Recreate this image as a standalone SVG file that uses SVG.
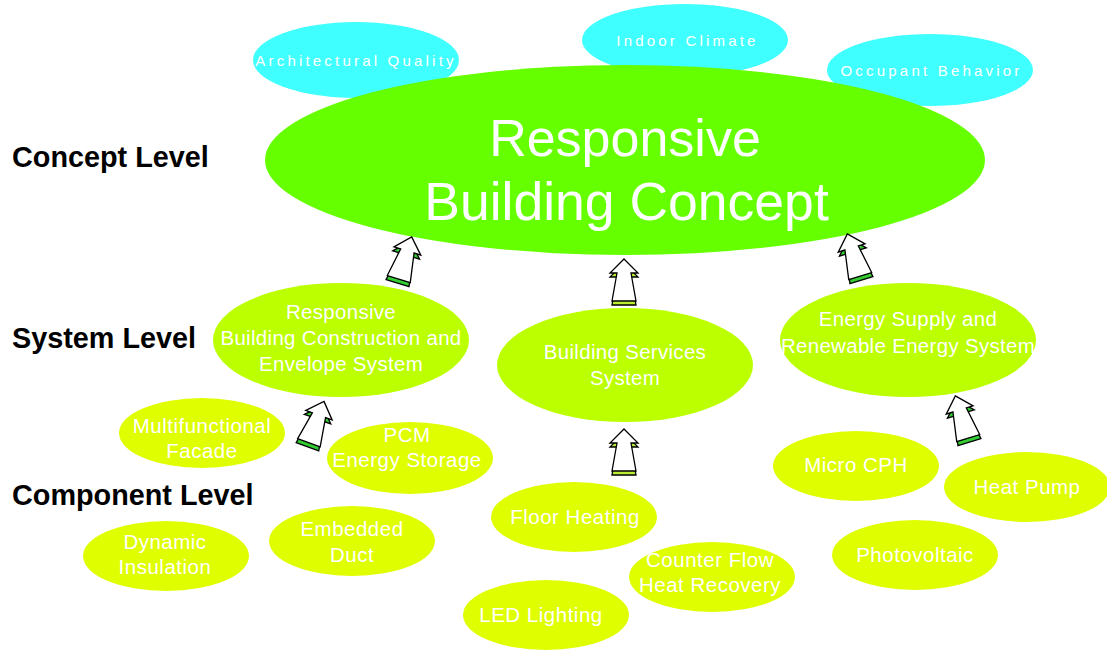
<svg xmlns="http://www.w3.org/2000/svg" xmlns:xlink="http://www.w3.org/1999/xlink" width="1107" height="651" viewBox="0 0 1107 651">
<defs>
<style>
.lvl{font-family:"Liberation Sans",Arial,sans-serif;font-weight:bold;font-size:28.8px;fill:#000}
.cy{fill:#40FFFF}
.cyt{font-family:"Liberation Sans",Arial,sans-serif;font-size:15px;letter-spacing:3.2px;fill:#fff;text-anchor:middle}
.main{fill:#66FF00}
.maint{font-family:"Liberation Sans",Arial,sans-serif;font-size:52px;fill:#fff;text-anchor:middle}
.sys{fill:#BBFF00}
.syst{font-family:"Liberation Sans",Arial,sans-serif;font-size:20.5px;letter-spacing:0.3px;fill:#fff;text-anchor:middle}
.comp{fill:#DFFF00}
.compt{font-family:"Liberation Sans",Arial,sans-serif;font-size:20.5px;letter-spacing:0.5px;fill:#fff;text-anchor:middle}
.sideg{fill:#33CC33;stroke:#000;stroke-width:1.3;stroke-linejoin:miter}
.sidey{fill:#BBEE33;stroke:#000;stroke-width:1.3;stroke-linejoin:miter}
.face{fill:#fff;stroke:#000;stroke-width:1.3;stroke-linejoin:miter}
</style>
<g id="arrowG">
<polygon class="sideg" points="0,-21 14,-7 7,-7 12,21 -12,21 -7,-7 -14,-7"/>
<polygon class="face" points="0,-25 14,-11 7,-11 12,17 -12,17 -7,-11 -14,-11"/>
</g>
<g id="arrowY">
<polygon class="sidey" points="0,-21 14,-7 7,-7 12,21 -12,21 -7,-7 -14,-7"/>
<polygon class="face" points="0,-25 14,-11 7,-11 12,17 -12,17 -7,-11 -14,-11"/>
</g>
</defs>
<rect width="1107" height="651" fill="#fff"/>

<g id="level-labels">
<text class="lvl" x="12" y="167">Concept Level</text>
<text class="lvl" x="12" y="348">System Level</text>
<text class="lvl" x="12" y="505">Component Level</text>
</g>

<g id="architectural-quality">
<ellipse class="cy" cx="356" cy="60" rx="103" ry="38"/>
<text class="cyt" x="356" y="66">Architectural Quality</text>
</g>
<g id="indoor-climate">
<ellipse class="cy" cx="685" cy="40" rx="103" ry="36"/>
<text class="cyt" x="687.5" y="46">Indoor Climate</text>
</g>
<g id="occupant-behavior">
<ellipse class="cy" cx="930" cy="70" rx="103" ry="36"/>
<text class="cyt" x="931.5" y="76">Occupant Behavior</text>
</g>

<g id="responsive-building-concept">
<ellipse class="main" cx="625" cy="160" rx="360" ry="95"/>
<text class="maint" x="625" y="156">Responsive</text>
<text class="maint" x="626.5" y="220" style="font-size:53.5px">Building Concept</text>
</g>

<g id="envelope-system">
<ellipse class="sys" cx="341" cy="340" rx="128" ry="57"/>
<text class="syst" x="341" y="319">Responsive</text>
<text class="syst" x="341" y="345">Building Construction and</text>
<text class="syst" x="341" y="371">Envelope System</text>
</g>
<g id="building-services">
<ellipse class="sys" cx="625" cy="365" rx="128" ry="57"/>
<text class="syst" x="625" y="359">Building Services</text>
<text class="syst" x="625" y="385">System</text>
</g>
<g id="energy-supply">
<ellipse class="sys" cx="908" cy="340" rx="128" ry="57"/>
<text class="syst" x="908" y="326">Energy Supply and</text>
<text class="syst" x="908" y="353">Renewable Energy System</text>
</g>

<g id="multifunctional-facade">
<ellipse class="comp" cx="202" cy="433" rx="83" ry="35"/>
<text class="compt" x="202" y="433">Multifunctional</text>
<text class="compt" x="202" y="458">Facade</text>
</g>
<g id="pcm-energy-storage">
<ellipse class="comp" cx="410" cy="458" rx="83" ry="36"/>
<text class="compt" x="407" y="442">PCM</text>
<text class="compt" x="407" y="467">Energy Storage</text>
</g>
<g id="dynamic-insulation">
<ellipse class="comp" cx="166" cy="556" rx="83" ry="35"/>
<text class="compt" x="165" y="549">Dynamic</text>
<text class="compt" x="165" y="574">Insulation</text>
</g>
<g id="embedded-duct">
<ellipse class="comp" cx="352" cy="541" rx="83" ry="35"/>
<text class="compt" x="352" y="536">Embedded</text>
<text class="compt" x="352" y="562">Duct</text>
</g>
<g id="floor-heating">
<ellipse class="comp" cx="574" cy="517" rx="83" ry="35"/>
<text class="compt" x="575" y="524">Floor Heating</text>
</g>
<g id="counter-flow">
<ellipse class="comp" cx="712" cy="577" rx="83" ry="35"/>
<text class="compt" x="710" y="567">Counter Flow</text>
<text class="compt" x="710" y="592">Heat Recovery</text>
</g>
<g id="led-lighting">
<ellipse class="comp" cx="546" cy="615" rx="83" ry="35"/>
<text class="compt" x="541" y="622">LED Lighting</text>
</g>
<g id="micro-cph">
<ellipse class="comp" cx="856" cy="466" rx="83" ry="35"/>
<text class="compt" x="856" y="472">Micro CPH</text>
</g>
<g id="heat-pump">
<ellipse class="comp" cx="1027" cy="487" rx="83" ry="35"/>
<text class="compt" x="1027" y="494">Heat Pump</text>
</g>
<g id="photovoltaic">
<ellipse class="comp" cx="915" cy="555" rx="83" ry="35"/>
<text class="compt" x="915" y="562">Photovoltaic</text>
</g>

<g id="connectors">
<use xlink:href="#arrowG" href="#arrowG" transform="translate(404,262) rotate(17) scale(1,1.05)"/>
<use xlink:href="#arrowY" href="#arrowY" transform="translate(624,284)"/>
<use xlink:href="#arrowG" href="#arrowG" transform="translate(855,259) rotate(-17) scale(1,1.05)"/>
<use xlink:href="#arrowG" href="#arrowG" transform="translate(315,426) rotate(20) scale(1,1.05)"/>
<use xlink:href="#arrowY" href="#arrowY" transform="translate(624,454)"/>
<use xlink:href="#arrowG" href="#arrowG" transform="translate(963,421) rotate(-17) scale(1,1.05)"/>
</g>
</svg>
